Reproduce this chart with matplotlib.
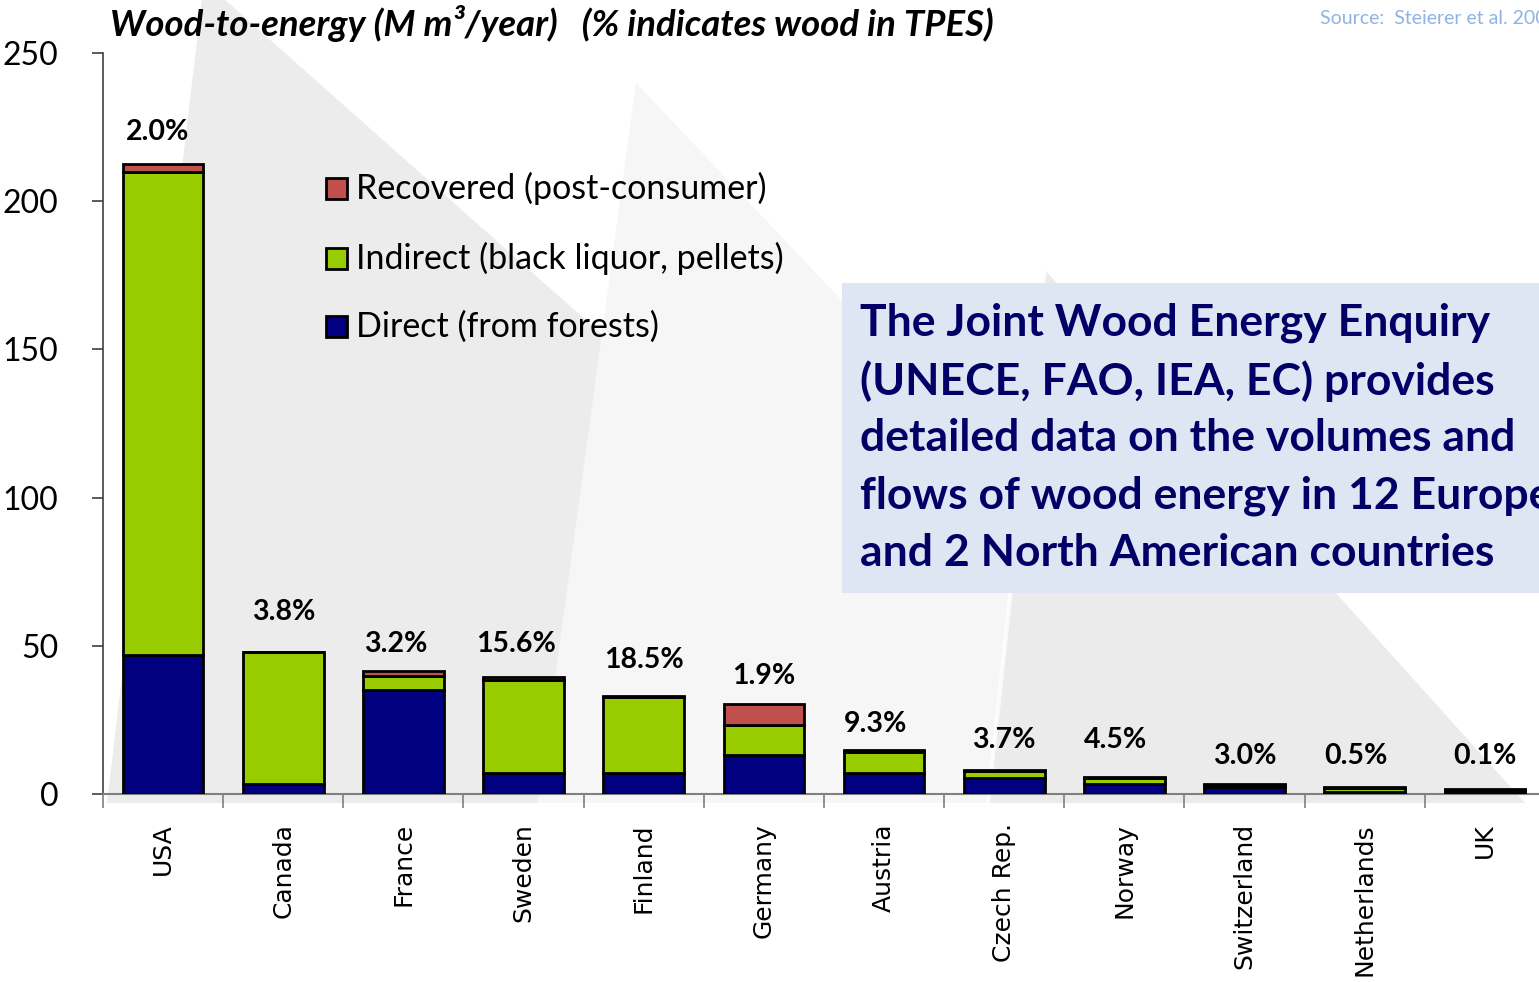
import matplotlib
matplotlib.use("Agg")
import matplotlib.pyplot as plt
from matplotlib.patches import Polygon, Rectangle
import numpy as np

# ---------------- data ----------------
countries = ["USA", "Canada", "France", "Sweden", "Finland", "Germany", "Austria",
             "Czech Rep.", "Norway", "Switzerland", "Netherlands", "UK"]
direct = [47.0, 3.4, 35.0, 7.0, 7.0, 13.2, 7.0, 5.4, 3.4, 2.4, 0.6, 1.0]
indirect = [163.0, 44.5, 4.8, 31.5, 25.8, 10.1, 7.2, 2.4, 2.0, 0.6, 1.3, 0.5]
recovered = [2.6, 0.0, 1.7, 0.9, 0.3, 7.1, 0.6, 0.3, 0.5, 0.5, 0.3, 0.3]
tpes_share = ["2.0%", "3.8%", "3.2%", "15.6%", "18.5%", "1.9%", "9.3%",
              "3.7%", "4.5%", "3.0%", "0.5%", "0.1%"]
series_labels = ["Recovered (post-consumer)", "Indirect (black liquor, pellets)",
                 "Direct (from forests)"]
y_ticks = [0, 50, 100, 150, 200, 250]
title = "Wood-to-energy (M m\u00b3/year)   (% indicates wood in TPES)"
source = "Source:  Steierer et al. 2007"
box_lines = ["The Joint Wood Energy Enquiry",
             "(UNECE, FAO, IEA, EC) provides",
             "detailed data on the volumes and",
             "flows of wood energy in 12 European",
             "and 2 North American countries"]

# label heights (layout, in data units)
label_y = [223.3, 61.4, 50.6, 50.6, 45.2, 39.8, 23.6, 18.2, 18.2, 12.8, 12.8, 12.8]
label_dx = [-0.05, 0.0, -0.06, -0.06, 0.0, 0.0, -0.07, 0.0, -0.07, 0.0, -0.07, 0.0]

# ---------------- style ----------------
C_DIRECT = "#000080"
C_INDIRECT = "#99cc00"
C_RECOVERED = "#c0504d"
W, H = 1539, 982
FONT = "Lato"

def fx(px):
    return px / W

def fy(py):
    return 1 - py / H

fig = plt.figure(figsize=(W / 100, H / 100), dpi=100)
fig.patch.set_facecolor("white")

# background pyramids (decorative, in figure pixel space)
bg = fig.add_axes([0, 0, 1, 1], zorder=0)
bg.set_xlim(0, W)
bg.set_ylim(H, 0)
bg.axis("off")
clip_y = 803
pyramids = [
    ([(203, -10), (107, clip_y), (1130, clip_y), (214, -10)], "#ececec"),
    ([(636, 83), (538, clip_y), (1317, clip_y)], "#f6f6f6"),
    ([(1045, 270), (988, clip_y), (1525, clip_y)], "#ebebeb"),
]
for pts, col in pyramids:
    bg.add_patch(Polygon(pts, closed=True, facecolor=col, edgecolor="none"))
bg.plot([1045, 988], [270, clip_y], color="white", lw=3, alpha=0.8)

# ---------------- main axes ----------------
left, right = 103, 1545
top, bottom = 53, 794
ax = fig.add_axes([fx(left), fy(bottom), fx(right - left), (bottom - top) / H], zorder=2)
ax.set_facecolor("none")

x = np.arange(len(countries))
bw = 0.67
d = np.array(direct)
i = np.array(indirect)
r = np.array(recovered)
kw = dict(width=bw, edgecolor="black", linewidth=2.0, zorder=3)
ax.bar(x, d, color=C_DIRECT, **kw)
ax.bar(x, i, bottom=d, color=C_INDIRECT, **kw)
ax.bar(x, r, bottom=d + i, color=C_RECOVERED, **kw)

ax.set_xlim(-0.5, len(countries) - 0.5)
ax.set_ylim(0, 250)
ax.set_yticks(y_ticks)
ax.set_yticklabels([str(v) for v in y_ticks], fontsize=23, family=FONT)
ax.tick_params(axis="y", direction="out", length=8, width=1.2, color="#404040", pad=24)

ax.set_xticks(x)
ax.set_xticklabels(countries, rotation=90, fontsize=18, family="DejaVu Sans", va="top")
ax.tick_params(axis="x", which="major", length=0, pad=21)
ax.set_xticks(np.arange(len(countries) + 1) - 0.5, minor=True)
ax.tick_params(axis="x", which="minor", direction="out", length=10, width=1.2, color="#7f7f7f")

for s in ["top", "right"]:
    ax.spines[s].set_visible(False)
ax.spines["left"].set_color("#404040")
ax.spines["left"].set_linewidth(1.2)
ax.spines["bottom"].set_color("#7f7f7f")
ax.spines["bottom"].set_linewidth(1.5)

for xi, lab, ly, dx in zip(x, tpes_share, label_y, label_dx):
    ax.text(xi + dx, ly, lab, ha="center", va="center", fontsize=20.5,
            fontweight="bold", family=FONT, color="black", zorder=4)

# ---------------- legend (manual) ----------------
leg_cols = [C_RECOVERED, C_INDIRECT, C_DIRECT]
leg_y = [188, 258, 327]
for col, lab, py in zip(leg_cols, series_labels, leg_y):
    fig.patches.append(Rectangle((fx(326), fy(py + 10.5)), fx(21), 21 / H,
                                 transform=fig.transFigure, facecolor=col,
                                 edgecolor="black", linewidth=2.0, zorder=5))
    fig.text(fx(356), fy(py), lab, ha="left", va="center", fontsize=24.5,
             family=FONT, color="black", zorder=5)

# ---------------- title & source ----------------
fig.text(fx(110), fy(23), title, ha="left", va="center", fontsize=26.3,
         fontweight="bold", fontstyle="italic", family=FONT, color="black")
fig.text(fx(1320), fy(18), source, ha="left", va="center", fontsize=14,
         family=FONT, color="#8eb4e3")

# ---------------- info box ----------------
fig.patches.append(Rectangle((fx(842), fy(593)), fx(W - 842 + 10), (593 - 283) / H,
                             transform=fig.transFigure, facecolor="#dde6f2",
                             edgecolor="none", zorder=3))
box_y = [323, 381, 438, 496, 553]
for line, py in zip(box_lines, box_y):
    fig.text(fx(860), fy(py), line, ha="left", va="center", fontsize=32,
             fontweight="bold", family=FONT, color="#000066", zorder=6)

fig.savefig("out.png", dpi=100)
